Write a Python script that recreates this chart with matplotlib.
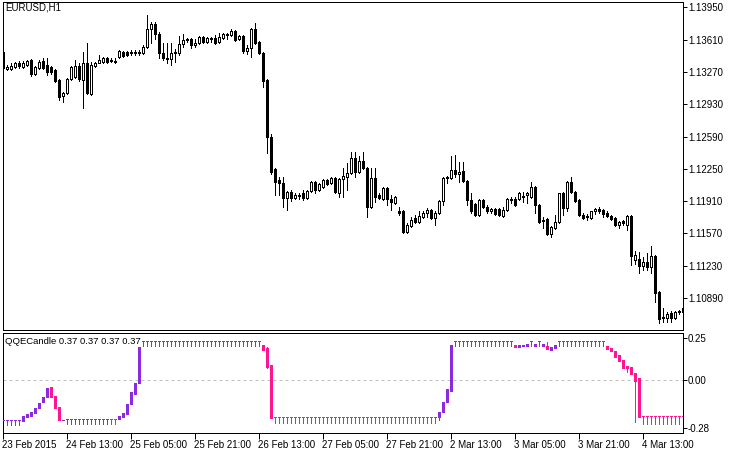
import numpy as np
import matplotlib
matplotlib.use("Agg")
import matplotlib.pyplot as plt

# ── EURUSD H1 candles ──────────────────────────────────────────────────────
opens = [
    1.1348, 1.1330, 1.1330, 1.1332, 1.1337, 1.1332, 1.1334, 1.1340, 1.1325, 1.1331,
    1.1339, 1.1334, 1.1332, 1.1329, 1.1319, 1.1302, 1.1305, 1.1320, 1.1322, 1.1333,
    1.1319, 1.1337, 1.1304, 1.1333, 1.1337, 1.1338, 1.1342, 1.1339, 1.1338, 1.1343,
    1.1348, 1.1348, 1.1347, 1.1347, 1.1347, 1.1347, 1.1353, 1.1372, 1.1378, 1.1367,
    1.1347, 1.1341, 1.1341, 1.1347, 1.1347, 1.1357, 1.1361, 1.1362, 1.1355, 1.1358,
    1.1364, 1.1359, 1.1362, 1.1363, 1.1359, 1.1363, 1.1366, 1.1366, 1.1370, 1.1362,
    1.1365, 1.1349, 1.1352, 1.1372, 1.1359, 1.1347, 1.1319, 1.1258, 1.1225, 1.1213,
    1.1210, 1.1194, 1.1201, 1.1194, 1.1196, 1.1199, 1.1194, 1.1202, 1.1211, 1.1203,
    1.1206, 1.1213, 1.1210, 1.1215, 1.1200, 1.1214, 1.1216, 1.1221, 1.1236, 1.1222,
    1.1233, 1.1226, 1.1185, 1.1215, 1.1197, 1.1193, 1.1205, 1.1193, 1.1189, 1.1181,
    1.1181, 1.1158, 1.1165, 1.1173, 1.1169, 1.1174, 1.1178, 1.1182, 1.1173, 1.1178,
    1.1191, 1.1215, 1.1215, 1.1224, 1.1219, 1.1223, 1.1212, 1.1192, 1.1188, 1.1176,
    1.1192, 1.1185, 1.1181, 1.1183, 1.1183, 1.1175, 1.1182, 1.1192, 1.1193, 1.1193,
    1.1195, 1.1197, 1.1195, 1.1206, 1.1187, 1.1170, 1.1172, 1.1156, 1.1163, 1.1169,
    1.1199, 1.1184, 1.1211, 1.1201, 1.1192, 1.1176, 1.1174, 1.1173, 1.1180, 1.1183,
    1.1182, 1.1178, 1.1175, 1.1173, 1.1166, 1.1170, 1.1166, 1.1175, 1.1129, 1.1130,
    1.1123, 1.1127, 1.1121, 1.1133, 1.1095, 1.1068, 1.1068, 1.1073, 1.1068, 1.1074,
    1.1074,
]
highs = [
    1.1349, 1.1334, 1.1336, 1.1338, 1.1339, 1.1339, 1.1340, 1.1341, 1.1333, 1.1340,
    1.1342, 1.1342, 1.1333, 1.1330, 1.1320, 1.1306, 1.1321, 1.1333, 1.1340, 1.1336,
    1.1348, 1.1358, 1.1338, 1.1338, 1.1345, 1.1343, 1.1343, 1.1342, 1.1342, 1.1350,
    1.1349, 1.1349, 1.1350, 1.1350, 1.1350, 1.1355, 1.1387, 1.1380, 1.1380, 1.1369,
    1.1358, 1.1358, 1.1358, 1.1351, 1.1365, 1.1367, 1.1363, 1.1363, 1.1362, 1.1365,
    1.1365, 1.1364, 1.1364, 1.1366, 1.1368, 1.1368, 1.1368, 1.1372, 1.1371, 1.1366,
    1.1366, 1.1355, 1.1373, 1.1379, 1.1360, 1.1348, 1.1320, 1.1262, 1.1226, 1.1216,
    1.1216, 1.1202, 1.1203, 1.1200, 1.1200, 1.1203, 1.1203, 1.1212, 1.1212, 1.1210,
    1.1214, 1.1214, 1.1216, 1.1216, 1.1215, 1.1226, 1.1231, 1.1243, 1.1243, 1.1238,
    1.1243, 1.1227, 1.1226, 1.1226, 1.1199, 1.1206, 1.1206, 1.1197, 1.1196, 1.1185,
    1.1182, 1.1168, 1.1174, 1.1176, 1.1180, 1.1180, 1.1184, 1.1183, 1.1180, 1.1192,
    1.1216, 1.1217, 1.1238, 1.1240, 1.1232, 1.1232, 1.1213, 1.1200, 1.1189, 1.1193,
    1.1193, 1.1187, 1.1184, 1.1184, 1.1184, 1.1185, 1.1194, 1.1195, 1.1195, 1.1201,
    1.1201, 1.1201, 1.1211, 1.1207, 1.1188, 1.1174, 1.1173, 1.1165, 1.1176, 1.1200,
    1.1201, 1.1212, 1.1216, 1.1202, 1.1193, 1.1178, 1.1177, 1.1181, 1.1184, 1.1185,
    1.1183, 1.1180, 1.1176, 1.1174, 1.1170, 1.1171, 1.1176, 1.1176, 1.1138, 1.1137,
    1.1132, 1.1136, 1.1144, 1.1134, 1.1096, 1.1078, 1.1074, 1.1075, 1.1075, 1.1076,
    1.1079,
]
lows = [
    1.1330, 1.1329, 1.1329, 1.1331, 1.1331, 1.1331, 1.1333, 1.1323, 1.1324, 1.1330,
    1.1330, 1.1324, 1.1325, 1.1316, 1.1298, 1.1295, 1.1304, 1.1319, 1.1321, 1.1318,
    1.1289, 1.1304, 1.1303, 1.1332, 1.1336, 1.1337, 1.1337, 1.1338, 1.1337, 1.1342,
    1.1343, 1.1344, 1.1345, 1.1345, 1.1345, 1.1346, 1.1352, 1.1358, 1.1362, 1.1342,
    1.1340, 1.1337, 1.1334, 1.1338, 1.1345, 1.1353, 1.1359, 1.1352, 1.1353, 1.1357,
    1.1358, 1.1358, 1.1359, 1.1356, 1.1358, 1.1362, 1.1362, 1.1365, 1.1360, 1.1361,
    1.1347, 1.1346, 1.1343, 1.1357, 1.1346, 1.1311, 1.1242, 1.1219, 1.1197, 1.1197,
    1.1185, 1.1182, 1.1191, 1.1193, 1.1193, 1.1192, 1.1193, 1.1201, 1.1200, 1.1202,
    1.1205, 1.1208, 1.1209, 1.1200, 1.1195, 1.1195, 1.1203, 1.1220, 1.1216, 1.1221,
    1.1225, 1.1174, 1.1184, 1.1190, 1.1193, 1.1192, 1.1187, 1.1182, 1.1188, 1.1176,
    1.1157, 1.1157, 1.1164, 1.1168, 1.1168, 1.1173, 1.1174, 1.1172, 1.1166, 1.1177,
    1.1187, 1.1210, 1.1214, 1.1216, 1.1211, 1.1211, 1.1187, 1.1178, 1.1175, 1.1175,
    1.1184, 1.1178, 1.1178, 1.1176, 1.1175, 1.1174, 1.1181, 1.1189, 1.1186, 1.1192,
    1.1190, 1.1189, 1.1194, 1.1178, 1.1168, 1.1163, 1.1155, 1.1153, 1.1162, 1.1168,
    1.1176, 1.1180, 1.1200, 1.1190, 1.1175, 1.1172, 1.1171, 1.1172, 1.1177, 1.1178,
    1.1174, 1.1174, 1.1171, 1.1165, 1.1163, 1.1166, 1.1161, 1.1124, 1.1125, 1.1115,
    1.1118, 1.1118, 1.1115, 1.1085, 1.1062, 1.1064, 1.1064, 1.1064, 1.1067, 1.1072,
    1.1073,
]
closes = [
    1.1331, 1.1332, 1.1333, 1.1336, 1.1333, 1.1337, 1.1339, 1.1325, 1.1332, 1.1338,
    1.1331, 1.1327, 1.1327, 1.1317, 1.1301, 1.1305, 1.1320, 1.1332, 1.1333, 1.1320,
    1.1337, 1.1305, 1.1334, 1.1337, 1.1340, 1.1342, 1.1338, 1.1340, 1.1339, 1.1349,
    1.1344, 1.1345, 1.1348, 1.1348, 1.1348, 1.1353, 1.1372, 1.1378, 1.1367, 1.1347,
    1.1342, 1.1342, 1.1347, 1.1348, 1.1356, 1.1361, 1.1362, 1.1355, 1.1358, 1.1364,
    1.1359, 1.1363, 1.1363, 1.1358, 1.1364, 1.1367, 1.1367, 1.1370, 1.1361, 1.1365,
    1.1349, 1.1352, 1.1372, 1.1358, 1.1347, 1.1318, 1.1258, 1.1222, 1.1211, 1.1210,
    1.1194, 1.1201, 1.1194, 1.1197, 1.1197, 1.1194, 1.1202, 1.1211, 1.1203, 1.1209,
    1.1213, 1.1209, 1.1215, 1.1201, 1.1214, 1.1217, 1.1221, 1.1236, 1.1222, 1.1233,
    1.1226, 1.1185, 1.1215, 1.1195, 1.1194, 1.1205, 1.1193, 1.1190, 1.1195, 1.1178,
    1.1158, 1.1166, 1.1171, 1.1169, 1.1175, 1.1178, 1.1182, 1.1173, 1.1178, 1.1191,
    1.1215, 1.1216, 1.1224, 1.1219, 1.1222, 1.1212, 1.1192, 1.1180, 1.1176, 1.1192,
    1.1185, 1.1180, 1.1183, 1.1177, 1.1176, 1.1182, 1.1193, 1.1193, 1.1187, 1.1200,
    1.1196, 1.1199, 1.1206, 1.1187, 1.1169, 1.1171, 1.1156, 1.1164, 1.1169, 1.1199,
    1.1184, 1.1211, 1.1201, 1.1191, 1.1176, 1.1173, 1.1175, 1.1180, 1.1183, 1.1180,
    1.1177, 1.1175, 1.1172, 1.1166, 1.1169, 1.1168, 1.1175, 1.1133, 1.1134, 1.1123,
    1.1127, 1.1121, 1.1133, 1.1094, 1.1067, 1.1069, 1.1072, 1.1068, 1.1074, 1.1075,
    1.1078,
]

# ── QQECandle sub-window (open/high/low/close + colour index 0=violet 1=pink) ─
q_open = [
    -0.233, -0.233, -0.233, -0.233, -0.233, -0.238, -0.215, -0.209, -0.195, -0.165,
    -0.130, -0.097, -0.038, -0.091, -0.156, -0.235, -0.231, -0.231, -0.231, -0.231,
    -0.231, -0.231, -0.231, -0.231, -0.231, -0.231, -0.231, -0.231, -0.231, -0.230,
    -0.215, -0.201, -0.142, -0.083, -0.018, 0.232, 0.232, 0.232, 0.232, 0.232,
    0.232, 0.232, 0.232, 0.232, 0.232, 0.232, 0.232, 0.232, 0.232, 0.232,
    0.232, 0.232, 0.232, 0.232, 0.232, 0.232, 0.232, 0.232, 0.232, 0.232,
    0.232, 0.232, 0.232, 0.232, 0.232, 0.208, 0.189, 0.090, -0.215, -0.215,
    -0.215, -0.215, -0.215, -0.215, -0.215, -0.215, -0.215, -0.215, -0.215, -0.215,
    -0.215, -0.215, -0.215, -0.215, -0.215, -0.215, -0.215, -0.215, -0.215, -0.215,
    -0.215, -0.215, -0.215, -0.215, -0.215, -0.215, -0.215, -0.215, -0.215, -0.215,
    -0.215, -0.215, -0.215, -0.215, -0.215, -0.215, -0.215, -0.215, -0.215, -0.215,
    -0.189, -0.130, -0.061, 0.232, 0.232, 0.232, 0.232, 0.232, 0.232, 0.232,
    0.232, 0.232, 0.232, 0.232, 0.232, 0.232, 0.232, 0.232, 0.210, 0.197,
    0.205, 0.200, 0.232, 0.205, 0.232, 0.205, 0.204, 0.179, 0.189, 0.232,
    0.232, 0.232, 0.232, 0.232, 0.232, 0.232, 0.232, 0.232, 0.232, 0.232,
    0.232, 0.204, 0.193, 0.173, 0.150, 0.120, 0.086, 0.080, 0.041, 0.015,
    -0.209, -0.209, -0.209, -0.209, -0.209, -0.209, -0.209, -0.209, -0.209, -0.209,
    -0.209,
]
q_high = [
    -0.233, -0.233, -0.233, -0.233, -0.233, -0.209, -0.201, -0.189, -0.165, -0.136,
    -0.097, -0.047, -0.038, -0.091, -0.156, -0.232, -0.231, -0.231, -0.231, -0.231,
    -0.231, -0.231, -0.231, -0.231, -0.231, -0.231, -0.231, -0.231, -0.231, -0.213,
    -0.195, -0.142, -0.067, -0.018, 0.199, 0.232, 0.232, 0.232, 0.232, 0.232,
    0.232, 0.232, 0.232, 0.232, 0.232, 0.232, 0.232, 0.232, 0.232, 0.232,
    0.232, 0.232, 0.232, 0.232, 0.232, 0.232, 0.232, 0.232, 0.232, 0.232,
    0.232, 0.232, 0.232, 0.232, 0.232, 0.208, 0.195, 0.090, -0.215, -0.215,
    -0.215, -0.215, -0.215, -0.215, -0.215, -0.215, -0.215, -0.215, -0.215, -0.215,
    -0.215, -0.215, -0.215, -0.215, -0.215, -0.215, -0.215, -0.215, -0.215, -0.215,
    -0.215, -0.215, -0.215, -0.215, -0.215, -0.215, -0.215, -0.215, -0.215, -0.215,
    -0.215, -0.215, -0.215, -0.215, -0.215, -0.215, -0.215, -0.215, -0.215, -0.189,
    -0.126, -0.051, 0.209, 0.232, 0.232, 0.232, 0.232, 0.232, 0.232, 0.232,
    0.232, 0.232, 0.232, 0.232, 0.232, 0.232, 0.232, 0.232, 0.210, 0.210,
    0.207, 0.212, 0.232, 0.215, 0.232, 0.215, 0.228, 0.199, 0.209, 0.232,
    0.232, 0.232, 0.232, 0.232, 0.232, 0.232, 0.232, 0.232, 0.232, 0.232,
    0.232, 0.204, 0.193, 0.173, 0.150, 0.120, 0.086, 0.080, 0.041, 0.015,
    -0.209, -0.209, -0.209, -0.209, -0.209, -0.209, -0.209, -0.209, -0.209, -0.209,
    -0.209,
]
q_low = [
    -0.262, -0.262, -0.262, -0.262, -0.262, -0.238, -0.215, -0.209, -0.195, -0.165,
    -0.130, -0.097, -0.097, -0.165, -0.235, -0.235, -0.260, -0.260, -0.260, -0.260,
    -0.260, -0.260, -0.260, -0.260, -0.260, -0.260, -0.260, -0.260, -0.260, -0.230,
    -0.215, -0.201, -0.142, -0.083, -0.018, 0.204, 0.204, 0.204, 0.204, 0.204,
    0.204, 0.204, 0.204, 0.204, 0.204, 0.204, 0.204, 0.204, 0.204, 0.204,
    0.204, 0.204, 0.204, 0.204, 0.204, 0.204, 0.204, 0.204, 0.204, 0.204,
    0.204, 0.204, 0.204, 0.204, 0.204, 0.179, 0.075, -0.221, -0.254, -0.254,
    -0.254, -0.254, -0.254, -0.254, -0.254, -0.254, -0.254, -0.254, -0.254, -0.254,
    -0.254, -0.254, -0.254, -0.254, -0.254, -0.254, -0.254, -0.254, -0.254, -0.254,
    -0.254, -0.254, -0.254, -0.254, -0.254, -0.254, -0.254, -0.254, -0.254, -0.254,
    -0.254, -0.254, -0.254, -0.254, -0.254, -0.254, -0.254, -0.254, -0.254, -0.235,
    -0.189, -0.130, -0.061, 0.204, 0.204, 0.204, 0.204, 0.204, 0.204, 0.204,
    0.204, 0.204, 0.204, 0.204, 0.204, 0.204, 0.204, 0.204, 0.195, 0.197,
    0.205, 0.200, 0.204, 0.205, 0.204, 0.205, 0.185, 0.179, 0.189, 0.204,
    0.204, 0.204, 0.204, 0.204, 0.204, 0.204, 0.204, 0.204, 0.204, 0.204,
    0.204, 0.185, 0.173, 0.139, 0.114, 0.074, 0.050, 0.035, -0.248, -0.215,
    -0.258, -0.258, -0.258, -0.258, -0.258, -0.258, -0.258, -0.258, -0.258, -0.258,
    -0.258,
]
q_close = [
    -0.233, -0.233, -0.233, -0.233, -0.233, -0.209, -0.201, -0.189, -0.165, -0.136,
    -0.097, -0.047, -0.097, -0.165, -0.235, -0.232, -0.231, -0.231, -0.231, -0.231,
    -0.231, -0.231, -0.231, -0.231, -0.231, -0.231, -0.231, -0.231, -0.231, -0.213,
    -0.195, -0.142, -0.067, -0.018, 0.199, 0.232, 0.232, 0.232, 0.232, 0.232,
    0.232, 0.232, 0.232, 0.232, 0.232, 0.232, 0.232, 0.232, 0.232, 0.232,
    0.232, 0.232, 0.232, 0.232, 0.232, 0.232, 0.232, 0.232, 0.232, 0.232,
    0.232, 0.232, 0.232, 0.232, 0.232, 0.179, 0.080, -0.221, -0.215, -0.215,
    -0.215, -0.215, -0.215, -0.215, -0.215, -0.215, -0.215, -0.215, -0.215, -0.215,
    -0.215, -0.215, -0.215, -0.215, -0.215, -0.215, -0.215, -0.215, -0.215, -0.215,
    -0.215, -0.215, -0.215, -0.215, -0.215, -0.215, -0.215, -0.215, -0.215, -0.215,
    -0.215, -0.215, -0.215, -0.215, -0.215, -0.215, -0.215, -0.215, -0.215, -0.189,
    -0.126, -0.051, 0.209, 0.232, 0.232, 0.232, 0.232, 0.232, 0.232, 0.232,
    0.232, 0.232, 0.232, 0.232, 0.232, 0.232, 0.232, 0.232, 0.195, 0.210,
    0.207, 0.212, 0.232, 0.215, 0.232, 0.215, 0.185, 0.199, 0.209, 0.232,
    0.232, 0.232, 0.232, 0.232, 0.232, 0.232, 0.232, 0.232, 0.232, 0.232,
    0.232, 0.185, 0.173, 0.139, 0.114, 0.074, 0.070, 0.035, -0.004, -0.215,
    -0.209, -0.209, -0.209, -0.209, -0.209, -0.209, -0.209, -0.209, -0.209, -0.209,
    -0.209,
]
q_color = [
    0, 0, 0, 0, 0, 0, 0, 0, 0, 0,
    0, 0, 1, 1, 1, 0, 0, 0, 0, 0,
    0, 0, 0, 0, 0, 0, 0, 1, 1, 0,
    0, 0, 0, 0, 0, 0, 0, 0, 0, 0,
    0, 0, 0, 0, 0, 0, 0, 0, 0, 0,
    0, 0, 0, 0, 0, 0, 0, 0, 0, 0,
    0, 0, 0, 0, 0, 1, 1, 1, 1, 1,
    1, 1, 1, 1, 1, 1, 1, 1, 1, 1,
    1, 1, 1, 1, 1, 1, 1, 1, 1, 1,
    1, 1, 1, 1, 1, 1, 1, 1, 1, 1,
    1, 1, 1, 1, 1, 1, 1, 1, 1, 0,
    0, 0, 0, 0, 0, 0, 0, 0, 0, 0,
    0, 0, 0, 0, 0, 0, 0, 0, 1, 0,
    0, 0, 0, 0, 0, 0, 1, 0, 0, 0,
    0, 0, 0, 0, 0, 0, 0, 0, 0, 0,
    0, 1, 1, 1, 1, 1, 1, 1, 1, 1,
    1, 1, 1, 1, 1, 1, 1, 1, 1, 1,
    1,
]

# ── axis labels ────────────────────────────────────────────────────────────
price_ticks = [1.13950, 1.13610, 1.13270, 1.12930, 1.12590,
               1.12250, 1.11910, 1.11570, 1.11230, 1.10890]
qqe_ticks = [0.25, 0.00, -0.28]
qqe_tick_labels = ["0.25", "0.00", "-0.28"]
time_tick_bars = [0, 16, 32, 48, 64, 80, 96, 112, 128, 144, 160]
time_tick_labels = ["23 Feb 2015", "24 Feb 13:00", "25 Feb 05:00", "25 Feb 21:00",
                    "26 Feb 13:00", "27 Feb 05:00", "27 Feb 21:00", "2 Mar 13:00",
                    "3 Mar 05:00", "3 Mar 21:00", "4 Mar 13:00"]

QQE_COLORS = ["#8A2BE2", "#FF1493"]   # blue-violet up, deep-pink down

# ── figure ─────────────────────────────────────────────────────────────────
W, H = 735, 453
plt.rcParams["font.family"] = ["Liberation Sans", "DejaVu Sans"]
plt.rcParams["font.size"] = 7
PX = 0.72   # one pixel in points at dpi=100

fig = plt.figure(figsize=(W / 100, H / 100), dpi=100)
fig.patch.set_facecolor("white")


def px_rect(x0, y0, x1, y1):
    return [x0 / W, 1 - y1 / H, (x1 - x0) / W, (y1 - y0) / H]


ax = fig.add_axes(px_rect(2.5, 1.5, 682.5, 330))
axq = fig.add_axes(px_rect(2.5, 332.5, 682.5, 432.7))


def draw_candles(a, o, h, l, c, fills, edges):
    x = np.arange(len(o))
    a.vlines(x, l, h, colors=edges, linewidth=PX, antialiased=False, zorder=2)
    o = np.asarray(o)
    c = np.asarray(c)
    a.bar(x, np.abs(c - o), bottom=np.minimum(o, c), width=0.5,
          color=fills, edgecolor=edges, linewidth=PX, antialiased=False, zorder=3)


# main price candles: hollow for up, black for down
up = np.asarray(closes) >= np.asarray(opens)
fills = ["white" if u else "black" for u in up]
draw_candles(ax, opens, highs, lows, closes, fills, ["black"] * len(opens))

# QQE candles
qc = [QQE_COLORS[k] for k in q_color]
draw_candles(axq, q_open, q_high, q_low, q_close, qc, qc)
axq.axhline(0, color="#C0C0C0", linewidth=PX, linestyle=(0, (3, 3)), zorder=1)

n = len(opens)
for a in (ax, axq):
    a.set_xlim(0, n - 1)
    a.set_facecolor("white")
    for s in a.spines.values():
        s.set_linewidth(PX)
        s.set_color("black")

ax.set_ylim(1.10551, 1.14013)
axq.set_ylim(-0.3097, 0.2825)

ax.set_yticks(price_ticks)
ax.set_yticklabels([f"{p:.5f}" for p in price_ticks])
ax.yaxis.tick_right()
ax.tick_params(axis="y", direction="out", length=3, width=PX, pad=1, labelsize=7)
ax.set_xticks([])

axq.set_yticks(qqe_ticks)
axq.set_yticklabels(qqe_tick_labels)
axq.yaxis.tick_right()
axq.tick_params(axis="y", direction="out", length=3, width=PX, pad=1, labelsize=7)
axq.set_xticks(time_tick_bars)
axq.set_xticklabels(time_tick_labels, ha="left")
axq.tick_params(axis="x", direction="out", length=4, width=PX, pad=1, labelsize=7)

fig.text(5 / W, 1 - 7 / H, "EURUSD,H1", ha="left", va="center", fontsize=7)
fig.text(5 / W, 1 - 341 / H, "QQECandle 0.37 0.37 0.37 0.37",
         ha="left", va="center", fontsize=6.8)

fig.savefig("out.png", dpi=100, facecolor="white")
plt.close(fig)
